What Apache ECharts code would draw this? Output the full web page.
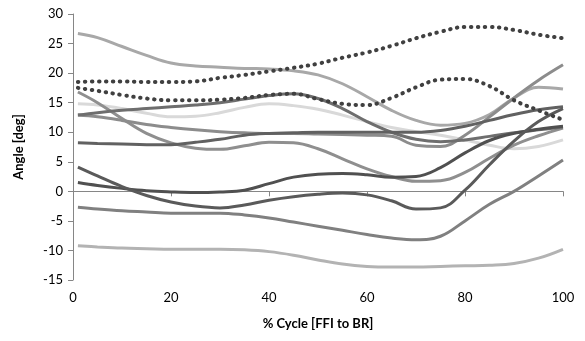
<!DOCTYPE html>
<html>
<head>
<meta charset="utf-8">
<script src="https://cdn.jsdelivr.net/npm/echarts@6/dist/echarts.min.js"></script>
<style>
  html, body { margin: 0; padding: 0; background: #fff; }
  #chart { width: 585px; height: 341px; }
</style>
</head>
<body>
<div id="chart"></div>
<script>
// % cycle sample points
const cycle = [1, 5, 10, 15, 20, 25, 30, 35, 40, 45, 50, 55, 60, 65, 70, 75, 80, 85, 90, 95, 100]

// angle traces [deg]
const traceA = [26.7, 26.0, 24.5, 23.0, 21.7, 21.2, 21.0, 20.8, 20.7, 20.4, 19.7, 18.2, 16.0, 13.7, 12.0, 11.2, 11.5, 13.0, 15.8, 17.6, 17.3]
const traceB = [12.9, 13.3, 13.7, 14.0, 14.3, 14.6, 15.0, 15.6, 16.2, 16.5, 15.7, 14.0, 11.8, 10.0, 8.8, 8.4, 8.7, 9.3, 9.9, 10.4, 10.9]
const traceC = [16.8, 15.0, 12.3, 9.8, 8.2, 7.3, 7.1, 7.7, 8.3, 8.2, 7.2, 5.5, 3.8, 2.5, 1.7, 1.8, 3.2, 5.6, 7.8, 9.4, 10.7]
const traceE = [14.8, 14.6, 14.0, 13.2, 12.6, 12.7, 13.3, 14.2, 14.8, 14.5, 13.9, 12.9, 11.8, 10.8, 10.1, 9.5, 8.7, 7.8, 7.2, 7.6, 8.7]
const traceF = [12.9, 12.6, 12.0, 11.3, 10.8, 10.4, 10.1, 9.9, 9.8, 9.8, 9.7, 9.6, 9.5, 9.3, 7.8, 7.6, 9.5, 12.6, 15.8, 18.8, 21.4]
const traceG = [8.2, 8.1, 8.0, 7.9, 7.9, 8.3, 8.8, 9.5, 9.8, 9.9, 10.0, 10.0, 10.0, 10.0, 10.0, 10.3, 11.0, 12.0, 13.0, 13.8, 14.3]
const traceH = [4.1, 2.6, 0.8, -0.7, -1.8, -2.5, -2.8, -2.3, -1.5, -0.9, -0.5, -0.3, -0.6, -1.6, -3.0, -2.8, 0.2, 4.5, 8.5, 11.8, 14.0]
const traceI = [1.5, 1.0, 0.5, 0.1, -0.1, -0.2, -0.1, 0.2, 1.3, 2.4, 2.9, 3.0, 2.8, 2.4, 2.5, 4.0, 6.5, 8.6, 9.8, 10.5, 11.0]
const traceJ = [-2.7, -3.0, -3.3, -3.5, -3.7, -3.7, -3.7, -4.0, -4.5, -5.2, -5.9, -6.6, -7.3, -7.9, -8.2, -7.6, -5.0, -2.2, 0.0, 2.6, 5.3]
const traceK = [-9.2, -9.4, -9.6, -9.7, -9.8, -9.8, -9.8, -9.9, -10.2, -10.8, -11.6, -12.3, -12.7, -12.8, -12.8, -12.7, -12.6, -12.5, -12.2, -11.3, -9.8]
const dottedUpper = [18.5, 18.6, 18.6, 18.5, 18.5, 18.6, 19.2, 19.7, 20.3, 20.9, 21.6, 22.6, 23.5, 24.6, 25.9, 27.0, 27.8, 27.8, 27.3, 26.5, 25.9]
const dottedLower = [17.5, 17.0, 16.3, 15.7, 15.4, 15.4, 15.5, 15.8, 16.3, 16.5, 15.6, 14.8, 14.6, 15.8, 17.6, 18.9, 19.0, 17.8, 15.4, 13.7, 12.1]

const xTicks = [0, 20, 40, 60, 80, 100]
const yTicks = [-15, -10, -5, 0, 5, 10, 15, 20, 25, 30]

const pair = (ys) => cycle.map((x, i) => [x, ys[i]])

function solid (ys, color) {
  return {
    type: 'line',
    data: pair(ys),
    smooth: 0.4,
    symbol: 'none',
    lineStyle: { color: color, width: 3 },
    z: 2
  }
}

function dotted (ys) {
  return {
    type: 'line',
    data: pair(ys),
    smooth: 0.4,
    symbol: 'none',
    lineStyle: { color: '#404040', width: 4, type: [0.5, 6.5], cap: 'round' },
    z: 3
  }
}

const chart = echarts.init(document.getElementById('chart'))
const font = 'Lato, "Open Sans", sans-serif'

chart.setOption({
  animation: false,
  grid: { left: 73, right: 22, top: 14, bottom: 61 },
  xAxis: {
    type: 'value',
    min: xTicks[0],
    max: xTicks[xTicks.length - 1],
    interval: 20,
    name: '% Cycle [FFI to BR]',
    nameLocation: 'middle',
    nameGap: 37,
    nameTextStyle: { fontFamily: font, fontWeight: 'bold', fontSize: 13, color: '#000' },
    axisLine: { lineStyle: { color: '#868686', width: 1 } },
    axisTick: { show: true, length: 5, lineStyle: { color: '#868686' } },
    axisLabel: { fontFamily: font, fontSize: 13, color: '#000', margin: 11 },
    splitLine: { show: false }
  },
  yAxis: {
    type: 'value',
    min: yTicks[0],
    max: yTicks[yTicks.length - 1],
    interval: 5,
    name: 'Angle [deg]',
    nameLocation: 'middle',
    nameGap: 48,
    nameRotate: 90,
    nameTextStyle: { fontFamily: font, fontWeight: 'bold', fontSize: 13, color: '#000' },
    axisLine: { show: true, lineStyle: { color: '#868686', width: 1 } },
    axisTick: { show: true, length: 5, lineStyle: { color: '#868686' } },
    axisLabel: { fontFamily: font, fontSize: 13, color: '#000', margin: 10 },
    splitLine: { show: false }
  },
  series: [
    solid(traceK, '#b3b3b3'),
    solid(traceJ, '#808080'),
    solid(traceE, '#d9d9d9'),
    solid(traceA, '#a8a8a8'),
    solid(traceC, '#8f8f8f'),
    solid(traceF, '#8c8c8c'),
    solid(traceB, '#6e6e6e'),
    solid(traceG, '#616161'),
    solid(traceI, '#505050'),
    solid(traceH, '#5a5a5a'),
    dotted(dottedUpper),
    dotted(dottedLower)
  ]
})
</script>
</body>
</html>
